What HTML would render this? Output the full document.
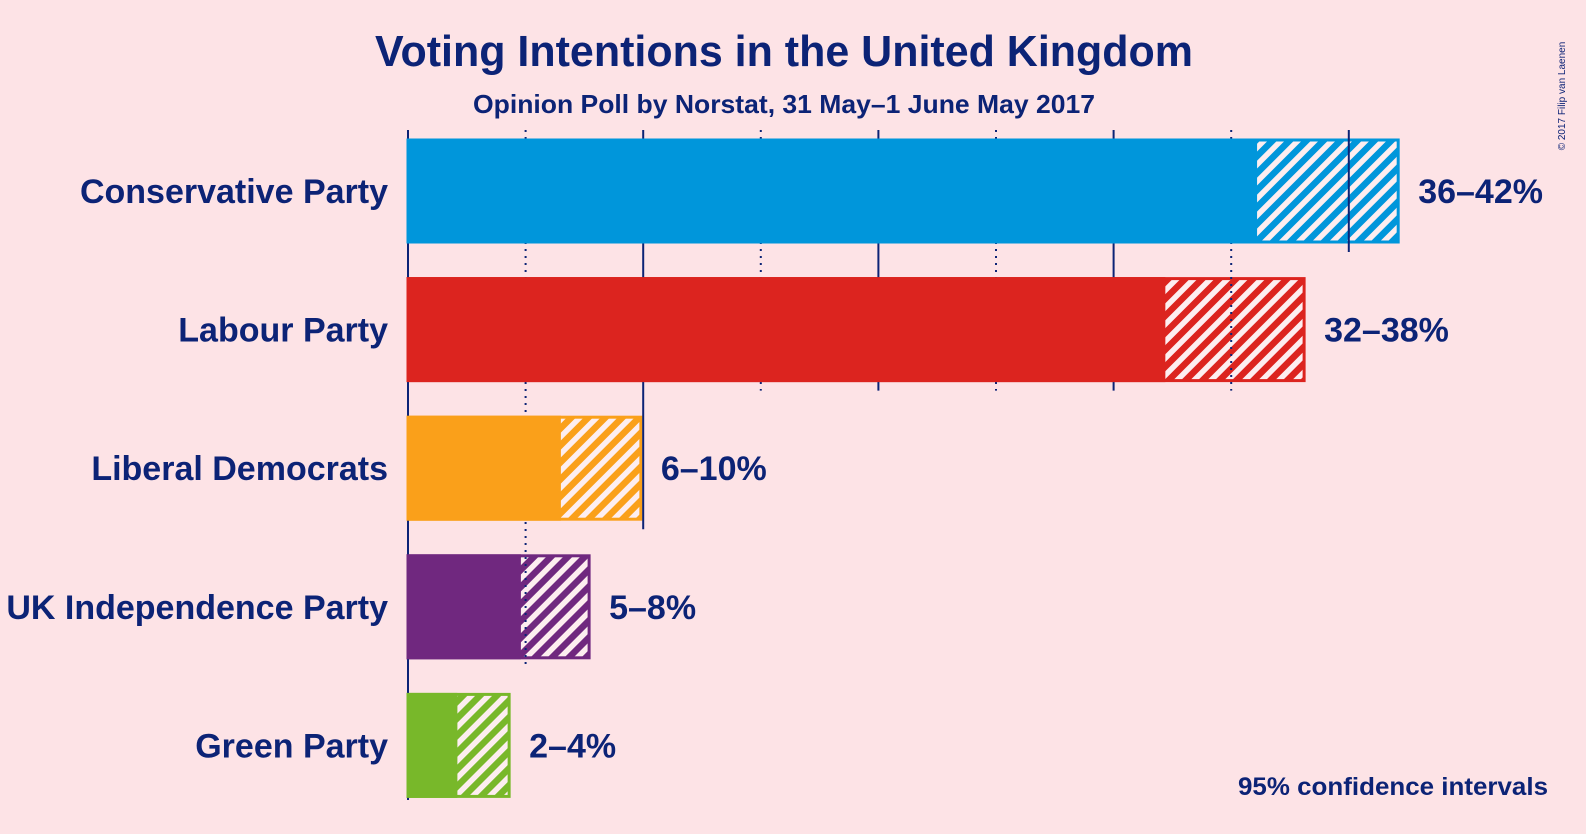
<!DOCTYPE html>
<html><head><meta charset="utf-8">
<style>
html,body{margin:0;padding:0;background:#fde3e6;}
svg{display:block;font-family:"Liberation Sans",sans-serif;}
</style></head>
<body>
<svg id="chart" width="1586" height="834" viewBox="0 0 1586 834" xmlns="http://www.w3.org/2000/svg">
<defs>
<pattern id="h0" patternUnits="userSpaceOnUse" width="12" height="12" patternTransform="rotate(45)"><rect width="12" height="12" fill="#fdeef0"/><rect width="6.5" height="12" fill="#0096db"/></pattern>
<pattern id="h1" patternUnits="userSpaceOnUse" width="12" height="12" patternTransform="rotate(45)"><rect width="12" height="12" fill="#fdeef0"/><rect width="6.5" height="12" fill="#dc241f"/></pattern>
<pattern id="h2" patternUnits="userSpaceOnUse" width="12" height="12" patternTransform="rotate(45)"><rect width="12" height="12" fill="#fdeef0"/><rect width="6.5" height="12" fill="#faa01a"/></pattern>
<pattern id="h3" patternUnits="userSpaceOnUse" width="12" height="12" patternTransform="rotate(45)"><rect width="12" height="12" fill="#fdeef0"/><rect width="6.5" height="12" fill="#70287f"/></pattern>
<pattern id="h4" patternUnits="userSpaceOnUse" width="12" height="12" patternTransform="rotate(45)"><rect width="12" height="12" fill="#fdeef0"/><rect width="6.5" height="12" fill="#78b82a"/></pattern>
</defs>
<rect width="1586" height="834" fill="#fde3e6"/>
<text x="784" y="66" text-anchor="middle" font-size="44" font-weight="bold" fill="#0c2376" textLength="818" lengthAdjust="spacingAndGlyphs">Voting Intentions in the United Kingdom</text>
<text x="784" y="113" text-anchor="middle" font-size="26" font-weight="bold" fill="#0c2376" textLength="622" lengthAdjust="spacingAndGlyphs">Opinion Poll by Norstat, 31 May–1 June May 2017</text>
<text x="1565" y="96" transform="rotate(-90 1565 96)" text-anchor="middle" font-size="10" fill="#0c2376">© 2017 Filip van Laenen</text>
<text x="1548" y="795" text-anchor="end" font-size="25" font-weight="bold" fill="#0c2376" textLength="310" lengthAdjust="spacingAndGlyphs">95% confidence intervals</text>
<g id="bars"></g>
</svg>
<script>
const parties = ["Conservative Party","Labour Party","Liberal Democrats","UK Independence Party","Green Party"];
const lowValues = [36.1, 32.2, 6.5, 4.8, 2.1];
const highValues = [42.1, 38.1, 9.9, 7.7, 4.3];
const rangeLabels = ["36–42%","32–38%","6–10%","5–8%","2–4%"];
const colors = ["#0096db","#dc241f","#faa01a","#70287f","#78b82a"];
const gridTicks = [0,5,10,15,20,25,30,35,40];

const NS="http://www.w3.org/2000/svg";
const svg=document.getElementById('bars');
const x0=408, pxPer=23.52;
const xs=v=>x0+v*pxPer;
const yTop=i=>140+i*138.6, barH=102;
function mk(tag,attrs){const e=document.createElementNS(NS,tag);for(const k in attrs)e.setAttribute(k,attrs[k]);svg.appendChild(e);return e;}

parties.forEach((p,i)=>{
  const r=mk('rect',{x:xs(0),y:yTop(i),width:xs(highValues[i])-xs(0),height:barH,fill:'url(#h'+i+')',stroke:colors[i],'stroke-width':3});
  
  
});
gridTicks.forEach((t)=>{
  const major=t%10===0;
  let last=-1;
  highValues.forEach((h,i)=>{ if(h>=t-0.5) last=i; });
  const y2 = t===0 ? 800 : (last>=0 ? yTop(last)+barH+10 : 140);
  const l=mk('line',{x1:xs(t),x2:xs(t),y1:130,y2:y2,stroke:'#0c2376','stroke-width':2,'stroke-dasharray':major?'none':'2,5'});
  
  
});
parties.forEach((p,i)=>{
  const r=mk('rect',{x:xs(0)-1.5,y:yTop(i)-1.5,width:xs(lowValues[i])-xs(0)+1.5,height:barH+3,fill:colors[i]});
  
  
  const lab=mk('text',{x:388,y:yTop(i)+barH/2+12,'text-anchor':'end','font-size':34,'font-weight':'bold',fill:'#0c2376'});
  lab.textContent=p;
  
  
  const v=mk('text',{x:xs(highValues[i])+20,y:yTop(i)+barH/2+12,'font-size':34,'font-weight':'bold',fill:'#0c2376'});
  v.textContent=rangeLabels[i];
  
  
});
</script>
</body></html>
